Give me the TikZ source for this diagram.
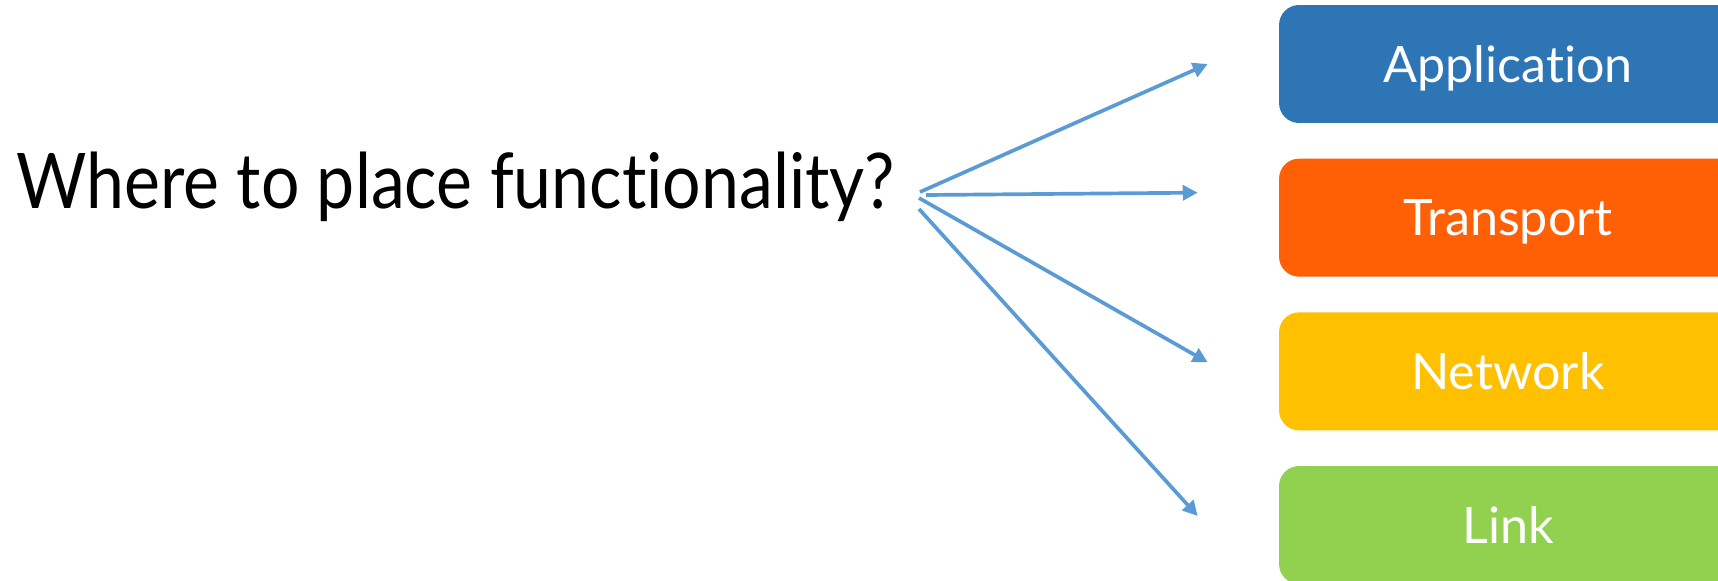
\documentclass[tikz,border=0pt]{standalone}
\usepackage{fontspec}
\usepackage{tikz}
\usetikzlibrary{arrows.meta,positioning,calc}
\newfontfamily\headfont[FakeStretch=0.885,Ligatures=NoCommon]{Lato}
\newfontfamily\layerfont[Ligatures=NoCommon]{Lato}
\definecolor{ArrowBlue}{RGB}{91,155,213}
\definecolor{AppBlue}{RGB}{46,117,182}
\definecolor{TransOrange}{RGB}{255,95,5}
\definecolor{NetYellow}{RGB}{255,192,0}
\definecolor{LinkGreen}{RGB}{146,208,80}

\begin{document}
\begin{tikzpicture}[x=0.02cm, y=-0.02cm,
	layer/.style={rectangle, rounded corners=0.4cm, minimum width=9.16cm, minimum height=2.36cm, inner sep=0pt,
		text=white, font=\layerfont\fontsize{28.6}{30}\selectfont, text height=20.6pt, text depth=0pt},
	choice/.style={-{Triangle[length=8.5pt,width=8.5pt]}, line width=2.1pt, ArrowBlue}]
			\clip (0,0) rectangle (1718,581);
			\node[anchor=base west, inner sep=0pt, font=\headfont\fontsize{43.7}{46}\selectfont] (q) at (16,208) {Where to place functionality?};
			\node[layer, fill=AppBlue] (app) at (1508,64) {Application};
			\node[layer, fill=TransOrange, below=0.7cm of app] (trans) {Transport};
			\node[layer, fill=NetYellow, below=0.7cm of trans] (net) {Network};
			\node[layer, fill=LinkGreen, below=0.7cm of net] (link) {Link};
			\coordinate (s1) at (920,192);
			\coordinate (s2) at (926,195);
			\coordinate (s3) at (919,198);
			\coordinate (s4) at (919,209);
			\coordinate (e1) at ($(app.west)+(-71,0)$);
			\coordinate (e2) at ($(trans.west)+(-81,-25)$);
			\coordinate (e3) at ($(net.west)+(-71,-9)$);
			\coordinate (e4) at ($(link.west)+(-81,-9)$);
			\draw[choice] (s1) -- (e1);
			\draw[choice] (s2) -- (e2);
			\draw[choice] (s3) -- (e3);
			\draw[choice] (s4) -- (e4);
		\end{tikzpicture}
\end{document}
